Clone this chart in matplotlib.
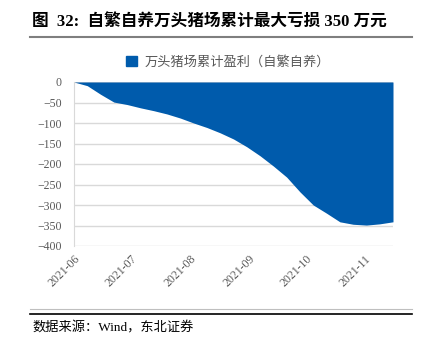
import numpy as np
import pandas as pd
import matplotlib
matplotlib.use("Agg")
import matplotlib.pyplot as plt
import matplotlib.dates as mdates
from matplotlib.patches import Patch
from matplotlib.lines import Line2D

plt.rcParams['font.family'] = ['Liberation Serif', 'Noto Sans CJK SC']

# weekly cumulative profit, 10k yuan
dates = pd.date_range("2021-06-01", periods=25, freq="7D")
profit = [0, -9, -30, -49, -55, -63, -70, -78, -88, -100, -111, -124, -139,
          -158, -180, -205, -232, -268, -300, -320, -341, -347, -349, -346, -341]
series_name = "万头猪场累计盈利（自繁自养）"
title = "图  32:  自繁自养万头猪场累计最大亏损 350 万元"
source = "数据来源：Wind，东北证券"

blue = "#005bac"
grid_c = "#d9d9d9"
text_c = "#595959"

fig = plt.figure(figsize=(4.23, 3.47), dpi=100)
ax = fig.add_axes([74/423, 1-246/347, (393-74)/423, (246-82)/347])

ax.fill_between(dates, profit, 0, color=blue, linewidth=0)
ax.set_xlim(dates[0], dates[-1])
ax.set_ylim(-400, 0)
ax.set_yticks(np.arange(-400, 1, 50))
ax.yaxis.grid(True, color=grid_c, linewidth=1)
ax.set_axisbelow(True)

ax.xaxis.set_major_locator(mdates.MonthLocator())
ax.xaxis.set_major_formatter(mdates.DateFormatter("%Y-%m"))
for lab in ax.get_xticklabels():
    lab.set_rotation(45)
    lab.set_ha("right")
    lab.set_rotation_mode("anchor")
ax.tick_params(axis="both", length=0, labelsize=8.5, colors=text_c)
ax.tick_params(axis="y", pad=9)
ax.tick_params(axis="x", pad=5)

for s in ["top", "right", "bottom"]:
    ax.spines[s].set_visible(False)
ax.spines["left"].set_color(grid_c)

fig.legend(handles=[Patch(color=blue)], labels=[series_name],
           loc="center", bbox_to_anchor=(0.54, 1-62/347), frameon=False,
           fontsize=9.5, labelcolor=text_c, handlelength=0.8, handleheight=0.8,
           handletextpad=0.6)

fig.text(32/423, 1-23/347, title, fontsize=12, fontweight="bold", va="center", ha="left")
fig.add_artist(Line2D([30/423, 412/423], [1-37/347]*2, color="#7f7f7f", linewidth=1.5))
fig.add_artist(Line2D([30/423, 412/423], [1-309/347]*2, color="#bfbfbf", linewidth=0.8))
fig.add_artist(Line2D([30/423, 412/423], [1-314/347]*2, color="#000000", linewidth=1.2))
fig.text(32/423, 1-328/347, source, fontsize=9.5, va="center", ha="left")

fig.savefig("out.png", dpi=100)
